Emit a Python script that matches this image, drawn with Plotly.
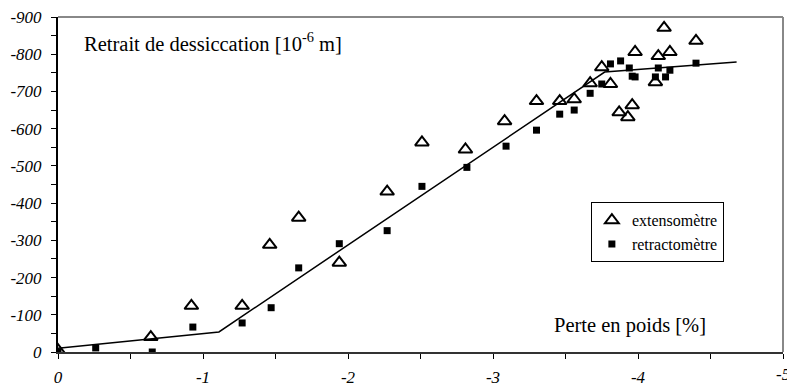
import plotly.graph_objects as go

# extensomètre (open triangles)
ext_x = [0.0, -0.64, -0.92, -1.27, -1.46, -1.66, -1.94, -2.27, -2.51, -2.81, -3.08, -3.30,
         -3.46, -3.56, -3.67, -3.75, -3.81, -3.87, -3.93, -3.96, -3.98, -4.12, -4.14, -4.18,
         -4.22, -4.40]
ext_y = [-5, -40, -124, -124, -288, -361, -240, -431, -563, -544, -620, -674,
         -674, -679, -722, -765, -720, -644, -631, -663, -806, -725, -795, -871,
         -806, -836]

# retractomètre (filled squares)
ret_x = [0.0, -0.26, -0.65, -0.93, -1.27, -1.47, -1.66, -1.94, -2.27, -2.51, -2.82, -3.09,
         -3.30, -3.46, -3.56, -3.67, -3.75, -3.81, -3.88, -3.94, -3.96, -3.98, -4.12, -4.14,
         -4.19, -4.22, -4.40]
ret_y = [0, -11, 0, -67, -78, -119, -226, -291, -326, -445, -496, -553,
         -596, -639, -650, -695, -720, -774, -782, -763, -741, -739, -739, -763,
         -739, -757, -776]

# trilinear fit
fit_x = [0.0, -1.11, -3.77, -4.68]
fit_y = [-10, -54, -752, -779]

x_ticks = [0, -0.5, -1, -1.5, -2, -2.5, -3, -3.5, -4, -4.5, -5]
x_labels = ["0", "", "-1", "", "-2", "", "-3", "", "-4", "", "-5"]
y_ticks = list(range(0, -901, -50))
y_labels = [str(v) if v % 100 == 0 else "" for v in y_ticks]

serif = "Liberation Serif"
tickfont = dict(family=serif, size=17, color="black", style="italic")

fig = go.Figure()
fig.add_trace(go.Scatter(x=fit_x, y=fit_y, mode="lines", line=dict(color="black", width=1.5),
                         showlegend=False, hoverinfo="skip"))
fig.add_trace(go.Scatter(x=ext_x, y=ext_y, mode="markers", name="extensomètre",
                         marker=dict(symbol="triangle-up-open", size=12, color="black",
                                     line=dict(color="black", width=2))))
fig.add_trace(go.Scatter(x=ret_x, y=ret_y, mode="markers", name="retractomètre",
                         marker=dict(symbol="square", size=7, color="black")))

fig.add_annotation(x=-0.165, y=-833, xref="x", yref="y", text="Retrait de dessiccation [10<sup>-6</sup> m]",
                   showarrow=False, xanchor="left", yanchor="middle",
                   font=dict(family=serif, size=20.5, color="black"))
fig.add_annotation(x=-4.48, y=-72, xref="x", yref="y", text="Perte en poids [%]",
                   showarrow=False, xanchor="right", yanchor="middle",
                   font=dict(family=serif, size=20.5, color="black"))
# last x tick label, clipped at the figure edge as in the reference
fig.add_annotation(x=x_ticks[-1], y=0, xref="x", yref="paper", text=x_labels[-1],
                   showarrow=False, xanchor="center", yanchor="top", yshift=-11,
                   font=tickfont)

fig.update_layout(
    width=787, height=385,
    margin=dict(l=58, r=4, t=17, b=33, autoexpand=False),
    plot_bgcolor="white", paper_bgcolor="white",
    legend=dict(x=0.735, y=0.447, xanchor="left", yanchor="top",
                bordercolor="black", borderwidth=1, bgcolor="white",
                font=dict(family=serif, size=16, color="black"),
                itemwidth=30, tracegroupgap=0),
    xaxis=dict(range=[0, -5], tickmode="array",
               tickvals=x_ticks, ticktext=x_labels, automargin=False,
               ticks="outside", ticklen=5, tickwidth=1, tickcolor="black",
               showline=True, linecolor="#333", linewidth=2, mirror=False,
               showgrid=False, zeroline=False,
               tickfont=tickfont, ticklabelstandoff=4),
    yaxis=dict(range=[0, -900], tickmode="array",
               tickvals=y_ticks, ticktext=y_labels, automargin=False,
               ticks="outside", ticklen=5, tickwidth=1, tickcolor="black",
               showline=True, linecolor="black", linewidth=2,
               showgrid=False, zeroline=False,
               tickfont=tickfont, ticklabelstandoff=6),
)
# top/right border in gray
fig.add_shape(type="line", xref="paper", yref="paper", x0=0, x1=1, y0=1, y1=1,
              line=dict(color="#888", width=2))
fig.add_shape(type="line", xref="paper", yref="paper", x0=1, x1=1, y0=0, y1=1,
              line=dict(color="#888", width=2))

fig.write_html("out.html")
